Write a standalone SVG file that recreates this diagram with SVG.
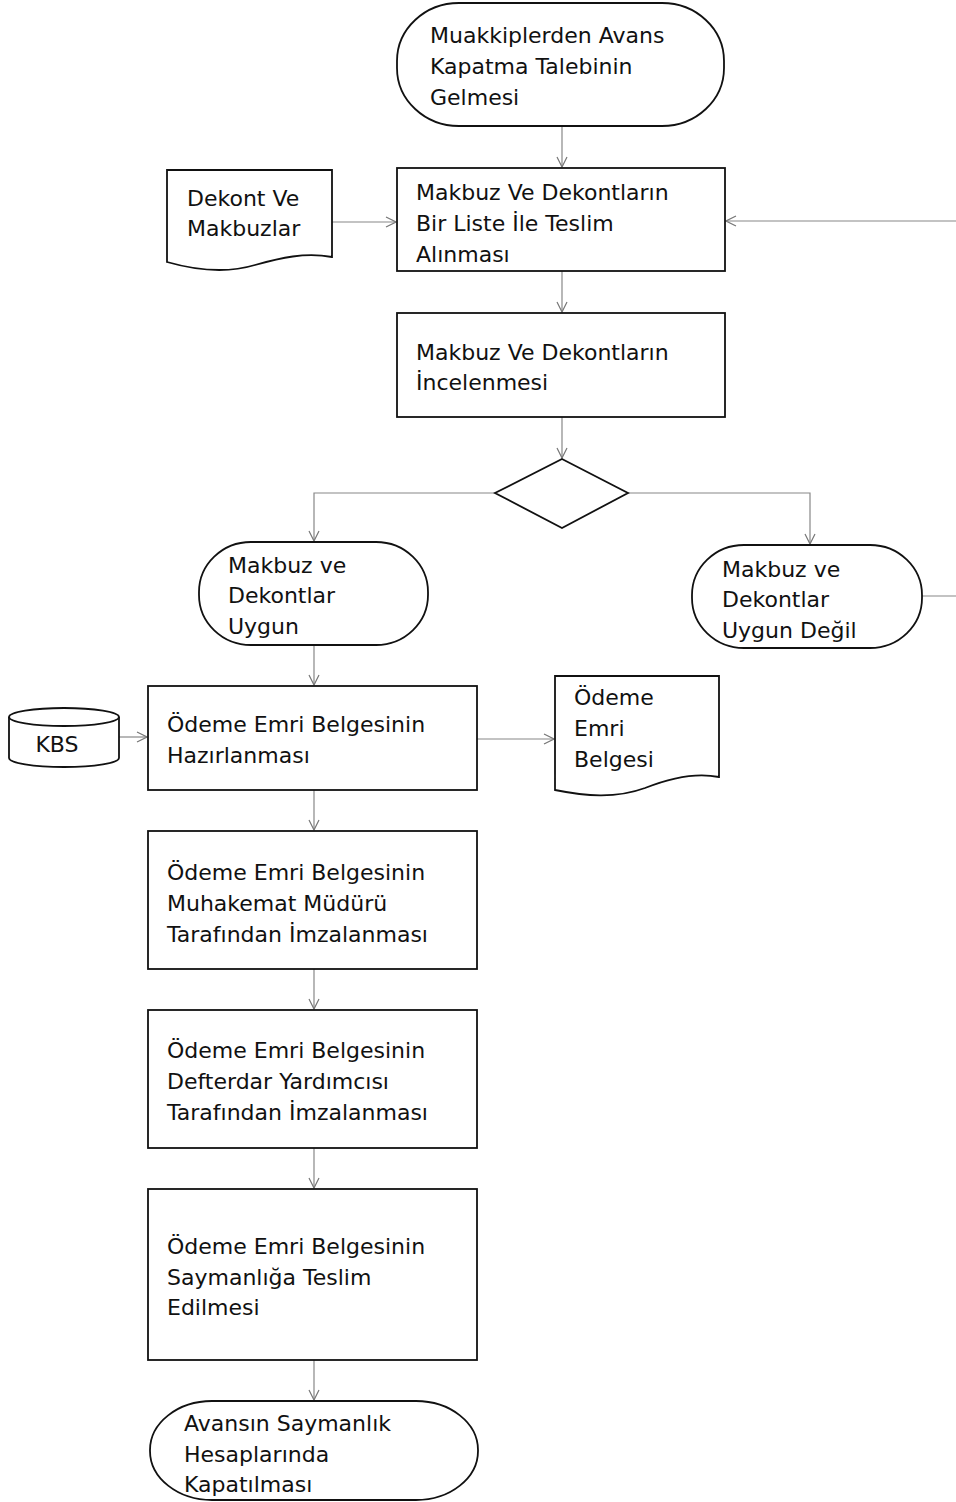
<svg xmlns="http://www.w3.org/2000/svg" width="956" height="1502" viewBox="0 0 956 1502">
<defs>
<marker id="arr" viewBox="0 0 12 12" markerWidth="12" markerHeight="12" refX="11" refY="6" orient="auto" markerUnits="userSpaceOnUse">
<path d="M1,1 L11,6 L1,11" fill="none" stroke="#777" stroke-width="1.2"/>
</marker>
</defs>
<style>
.s{fill:#fff;stroke:#111;stroke-width:1.8}
.c{fill:none;stroke:#888;stroke-width:1.2}
.ca{fill:none;stroke:#888;stroke-width:1.2;marker-end:url(#arr)}
text{font-family:"DejaVu Sans","Liberation Sans",sans-serif;font-size:22px;fill:#111}
</style>
<rect width="956" height="1502" fill="#fff"/>
<g id="connectors">
<line class="ca" x1="562" y1="126" x2="562" y2="167"/>
<line class="ca" x1="332" y1="222" x2="396" y2="222"/>
<line class="ca" x1="956" y1="221" x2="726" y2="221"/>
<line class="ca" x1="562" y1="271" x2="562" y2="312"/>
<line class="ca" x1="562" y1="417" x2="562" y2="458"/>
<polyline class="ca" points="495,493 314,493 314,541"/>
<polyline class="ca" points="628,493 810,493 810,544"/>
<line class="c" x1="922" y1="596" x2="956" y2="596"/>
<line class="ca" x1="314" y1="645" x2="314" y2="685"/>
<line class="ca" x1="119" y1="737" x2="147" y2="737"/>
<line class="ca" x1="477" y1="739" x2="554" y2="739"/>
<line class="ca" x1="314" y1="790" x2="314" y2="830"/>
<line class="ca" x1="314" y1="969" x2="314" y2="1009"/>
<line class="ca" x1="314" y1="1148" x2="314" y2="1188"/>
<line class="ca" x1="314" y1="1360" x2="314" y2="1400"/>
</g>
<g id="start">
<rect class="s" x="397" y="3" width="327" height="123" rx="62" ry="58"/>
<text x="430" y="43">Muakkiplerden Avans</text>
<text x="430" y="74">Kapatma Talebinin</text>
<text x="430" y="105">Gelmesi</text>
</g>
<g id="dekont">
<path class="s" d="M167,170 H332 V257 C305,252 280,258 255,265 C225,274 195,270 167,262 Z"/>
<text x="187" y="206">Dekont Ve</text>
<text x="187" y="236">Makbuzlar</text>
</g>
<g id="teslim">
<rect class="s" x="397" y="168" width="328" height="103"/>
<text x="416" y="200">Makbuz Ve Dekontların</text>
<text x="416" y="231">Bir Liste İle Teslim</text>
<text x="416" y="262">Alınması</text>
</g>
<g id="inceleme">
<rect class="s" x="397" y="313" width="328" height="104"/>
<text x="416" y="360">Makbuz Ve Dekontların</text>
<text x="416" y="390">İncelenmesi</text>
</g>
<g id="karar">
<polygon class="s" points="562,459 628,493 562,528 495,493"/>
</g>
<g id="uygun">
<rect class="s" x="199" y="542" width="229" height="103" rx="52" ry="50"/>
<text x="228" y="573">Makbuz ve</text>
<text x="228" y="603">Dekontlar</text>
<text x="228" y="634">Uygun</text>
</g>
<g id="uygundegil">
<rect class="s" x="692" y="545" width="230" height="103" rx="52" ry="50"/>
<text x="722" y="577">Makbuz ve</text>
<text x="722" y="607">Dekontlar</text>
<text x="722" y="638">Uygun Değil</text>
</g>
<g id="kbs">
<path class="s" d="M9,717 A55,9 0 0 1 119,717 V758 A55,9 0 0 1 9,758 Z"/>
<path class="s" fill="none" d="M9,717 A55,9 0 0 0 119,717"/>
<text x="57" y="752" text-anchor="middle">KBS</text>
</g>
<g id="hazirlama">
<rect class="s" x="148" y="686" width="329" height="104"/>
<text x="167" y="732">Ödeme Emri Belgesinin</text>
<text x="167" y="763">Hazırlanması</text>
</g>
<g id="belge">
<path class="s" d="M555,676 H719 V777 C695,772 670,778 645,788 C615,799 585,796 555,790 Z"/>
<text x="574" y="705">Ödeme</text>
<text x="574" y="736">Emri</text>
<text x="574" y="767">Belgesi</text>
</g>
<g id="muhakemat">
<rect class="s" x="148" y="831" width="329" height="138"/>
<text x="167" y="880">Ödeme Emri Belgesinin</text>
<text x="167" y="911">Muhakemat Müdürü</text>
<text x="167" y="942">Tarafından İmzalanması</text>
</g>
<g id="defterdar">
<rect class="s" x="148" y="1010" width="329" height="138"/>
<text x="167" y="1058">Ödeme Emri Belgesinin</text>
<text x="167" y="1089">Defterdar Yardımcısı</text>
<text x="167" y="1120">Tarafından İmzalanması</text>
</g>
<g id="saymanlik">
<rect class="s" x="148" y="1189" width="329" height="171"/>
<text x="167" y="1254">Ödeme Emri Belgesinin</text>
<text x="167" y="1285">Saymanlığa Teslim</text>
<text x="167" y="1315">Edilmesi</text>
</g>
<g id="son">
<rect class="s" x="150" y="1401" width="328" height="99" rx="62" ry="49"/>
<text x="184" y="1431">Avansın Saymanlık</text>
<text x="184" y="1462">Hesaplarında</text>
<text x="184" y="1492">Kapatılması</text>
</g>
</svg>
